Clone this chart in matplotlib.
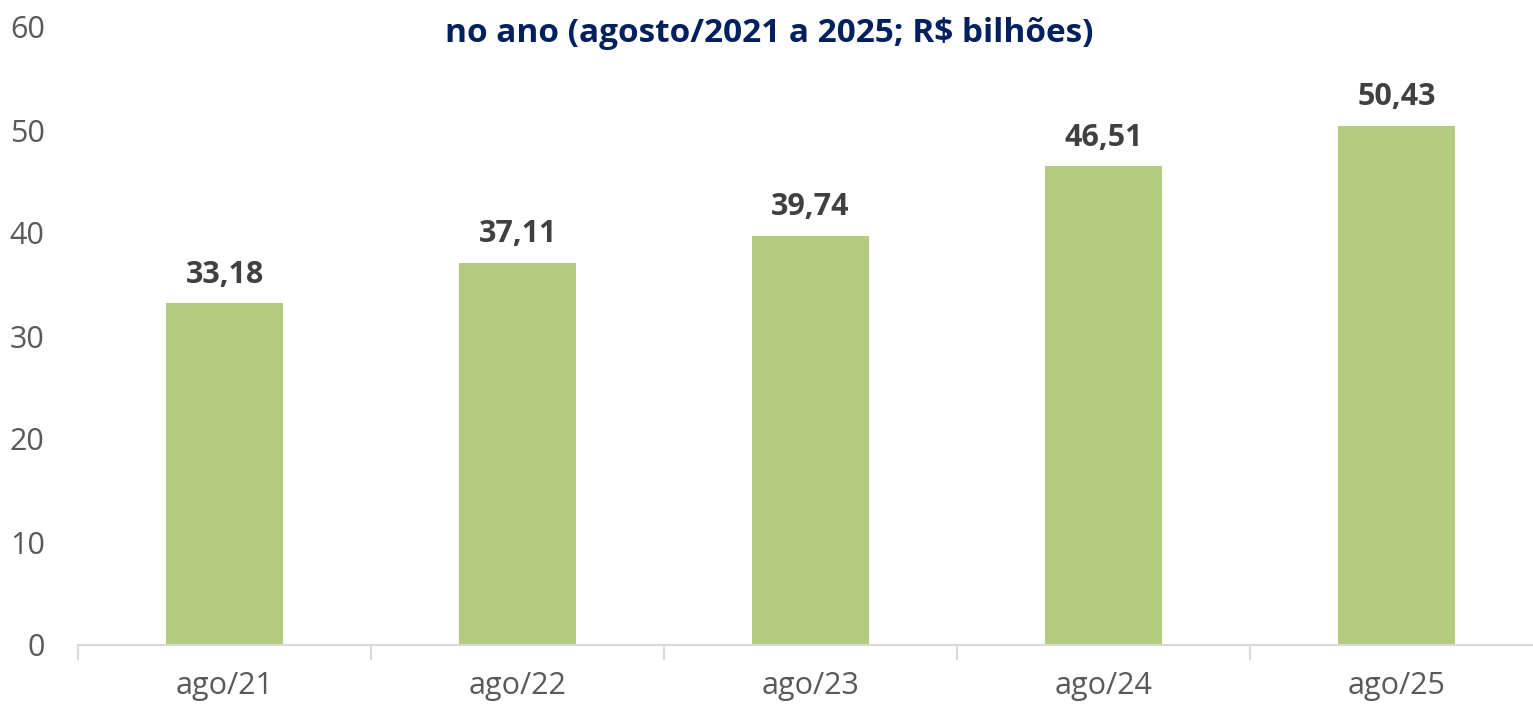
import matplotlib.pyplot as plt

categorias = ['ago/21', 'ago/22', 'ago/23', 'ago/24', 'ago/25']
valores = [33.18, 37.11, 39.74, 46.51, 50.43]
rotulos = ['33,18', '37,11', '39,74', '46,51', '50,43']
yticks = [0, 10, 20, 30, 40, 50, 60]

plt.rcParams['font.family'] = ['Open Sans', 'DejaVu Sans']

fig = plt.figure(figsize=(15.33, 7.07), dpi=100)
# axis continues past the right edge in the reference (cropped image)
ax = fig.add_axes([78 / 1533, 1 - 645 / 707, 1465 / 1533, 618 / 707])

x = list(range(len(categorias)))
ax.bar(x, valores, width=0.4, color='#b3cb7e', zorder=2)
for xi, v, r in zip(x, valores, rotulos):
    ax.text(xi, v + 1.3, r, ha='center', va='bottom', fontsize=22,
            fontweight='bold', color='#404040')

ax.set_xlim(-0.5, len(categorias) - 0.5)
ax.set_ylim(0, 60)
ax.set_yticks(yticks)
ax.set_xticks(x)
ax.set_xticklabels(categorias)
ax.set_xticks([i - 0.5 for i in range(len(categorias) + 1)], minor=True)
ax.tick_params(axis='x', which='major', length=0, pad=19, labelsize=22,
               labelcolor='#595959')
ax.tick_params(axis='x', which='minor', length=11, width=1.5, color='#d9d9d9')
ax.tick_params(axis='y', length=0, pad=24, labelsize=22, labelcolor='#595959')

for s in ['top', 'right', 'left']:
    ax.spines[s].set_visible(False)
ax.spines['bottom'].set_color('#d9d9d9')
ax.spines['bottom'].set_linewidth(1.5)

fig.text(769 / 1533, 1 - 33 / 707, 'no ano (agosto/2021 a 2025; R$ bilhões)',
         ha='center', va='center', fontsize=24, fontweight='bold', color='#002060')

fig.savefig('out.png', dpi=100)
